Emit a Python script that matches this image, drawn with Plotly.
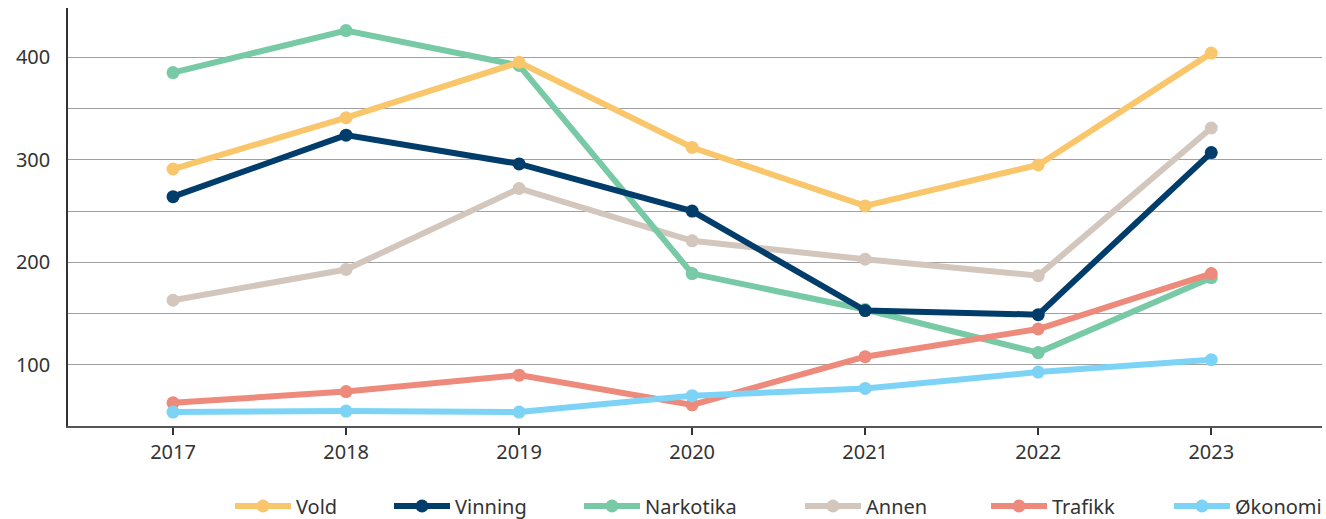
import plotly.graph_objects as go

years = ["2017", "2018", "2019", "2020", "2021", "2022", "2023"]
vold = [291, 341, 395, 312, 255, 295, 404]
vinning = [264, 324, 296, 250, 153, 149, 307]
narkotika = [385, 426, 392, 189, 154, 112, 185]
annen = [163, 193, 272, 221, 203, 187, 331]
trafikk = [63, 74, 90, 61, 108, 135, 189]
okonomi = [54, 55, 54, 70, 77, 93, 105]
y_ticks = [100, 200, 300, 400]
y_minor_grid = [150, 250, 350]

series = [
    ("Vold", vold, "#F9C66B"),
    ("Vinning", vinning, "#003D6B"),
    ("Narkotika", narkotika, "#78C9A5"),
    ("Annen", annen, "#D3C6BC"),
    ("Trafikk", trafikk, "#EE8A7B"),
    ("Økonomi", okonomi, "#7DD3F5"),
]
draw_order = ["Annen", "Narkotika", "Trafikk", "Økonomi", "Vinning", "Vold"]
# left edge (px) of each legend label text in the reference
legend_text_x = {"Vold": 296, "Vinning": 455, "Narkotika": 645, "Annen": 866, "Trafikk": 1052, "Økonomi": 1235}

FONT = "Noto Sans"
fig = go.Figure()
lookup = {s[0]: s for s in series}
legend_ids = {}
for i, (name, _, _) in enumerate(series):
    legend_ids[name] = "legend" if i == 0 else f"legend{i+1}"

for name in draw_order:
    _, vals, color = lookup[name]
    fig.add_trace(go.Scatter(
        x=years, y=vals, name=name, mode="lines+markers",
        line=dict(color=color, width=6),
        marker=dict(color=color, size=13),
        legend=legend_ids[name],
    ))

layout_legends = {}
for name, lid in legend_ids.items():
    layout_legends[lid] = dict(
        x=(legend_text_x[name] - 66) / 1326, y=(519 - 506) / 519,
        xref="container", yref="container",
        xanchor="left", yanchor="middle",
        orientation="h", itemwidth=56,
        font=dict(family=FONT, size=20, color="#333333"),
        bgcolor="rgba(0,0,0,0)",
    )

fig.update_layout(
    width=1326, height=519,
    margin=dict(l=68, r=4, t=8, b=93, autoexpand=False),
    plot_bgcolor="white", paper_bgcolor="white",
    showlegend=True,
    font=dict(family=FONT, size=20, color="#333333"),
    xaxis=dict(
        type="category", range=[-0.607, 6.64],
        showgrid=False, showline=True, linecolor="#555555", linewidth=1.5,
        ticks="outside", ticklen=7, tickwidth=2, tickcolor="#333333",
        tickfont=dict(family=FONT, size=20, color="#333333"),
    ),
    yaxis=dict(
        range=[40.4, 448], tickmode="array", tickvals=y_ticks,
        showgrid=True, gridcolor="#A0A0A0", gridwidth=1,
        minor=dict(tickmode="array", tickvals=y_minor_grid, showgrid=True,
                   gridcolor="#A0A0A0", gridwidth=1, ticks=""),
        showline=True, linecolor="#333333", linewidth=1.5,
        ticks="", zeroline=False,
        ticklabelstandoff=12,
        tickfont=dict(family=FONT, size=20, color="#333333"),
    ),
    **layout_legends,
)

fig.write_html(
    "out.html",
    config={"displayModeBar": False},
    post_script="document.body.style.margin='0';document.body.style.overflow='hidden';",
)
